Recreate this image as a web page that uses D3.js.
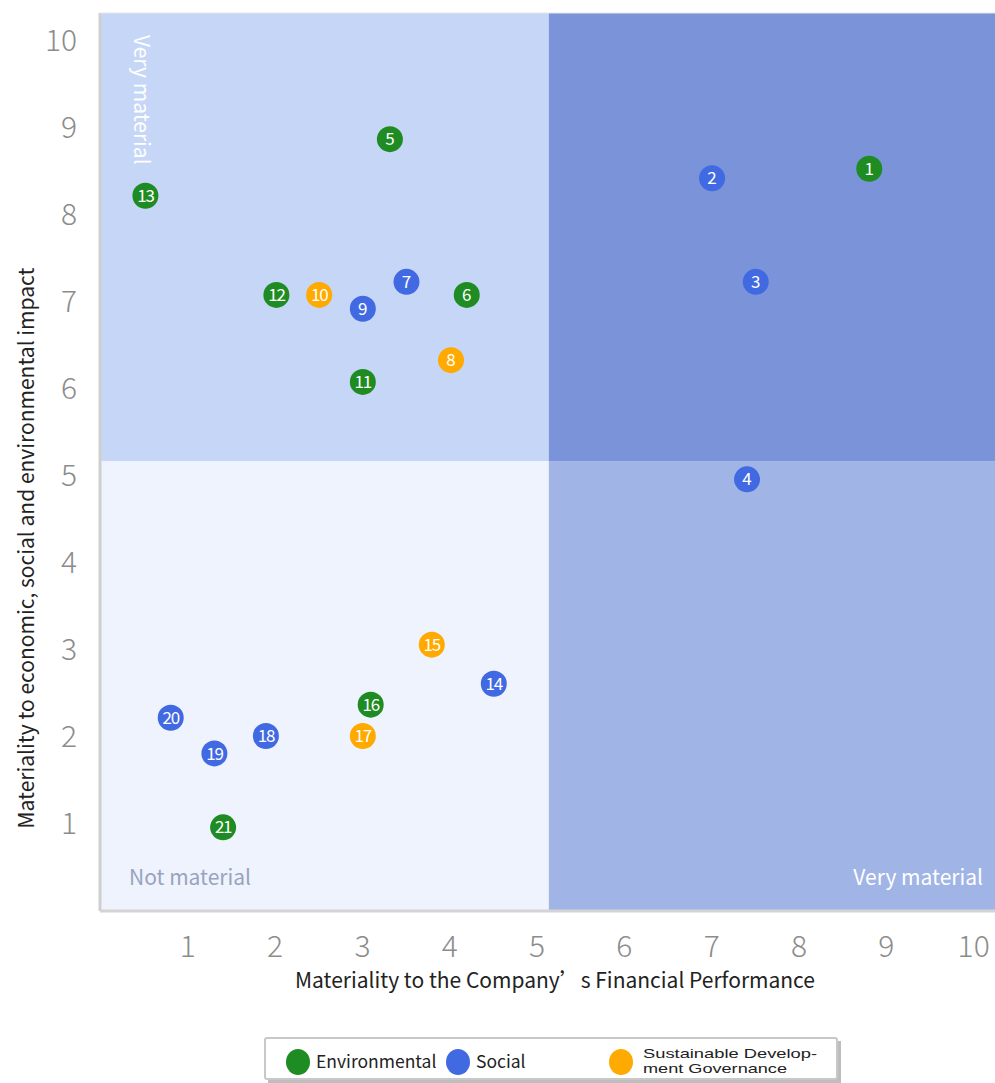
<!DOCTYPE html>
<html><head><meta charset="utf-8">
<script src="https://cdn.jsdelivr.net/npm/d3@7"></script>
<style>body{margin:0;background:#fff;} svg{display:block;}</style>
</head><body>
<script>
// ---- data ----
const ids        = [1,2,3,4,5,6,7,8,9,10,11,12,13,14,15,16,17,18,19,20,21];
const financial  = [8.81,7.01,7.51,7.41,3.32,4.20,3.51,4.02,3.01,2.51,3.01,2.02,0.52,4.51,3.80,3.10,3.01,1.90,1.31,0.81,1.41];
const impact     = [8.52,8.41,7.22,4.95,8.86,7.07,7.22,6.32,6.91,7.07,6.07,7.07,8.21,2.60,3.05,2.36,2.00,2.00,1.80,2.21,0.95];
const categories = ["E","S","S","S","E","E","S","G","S","G","E","E","E","S","G","E","G","S","S","S","E"];
const seriesKeys   = ["E","S","G"];
const seriesLabels = ["Environmental","Social","Sustainable Develop-|ment Governance"];
const tickValues = [1,2,3,4,5,6,7,8,9,10];
const xTitle = "Materiality to the Company’s Financial Performance";
const yTitle = "Materiality to economic, social and environmental impact";
const quadrantSplit = {x:5.14, y:5.16};

const colors = {E:"#1e8c22", S:"#4169e1", G:"#ffaa00"};
const W = 995, H = 1083;
const svg = d3.select("body").append("svg").attr("width",W).attr("height",H);

const x = d3.scaleLinear().domain([0,10.25]).range([100,995]);
const y = d3.scaleLinear().domain([0,10.31]).range([910,13]);

// quadrants
const quads = [
  {x0:0, x1:quadrantSplit.x, y0:quadrantSplit.y, y1:10.31, fill:"#c6d6f6"},
  {x0:quadrantSplit.x, x1:10.25, y0:quadrantSplit.y, y1:10.31, fill:"#7b93d8"},
  {x0:0, x1:quadrantSplit.x, y0:0, y1:quadrantSplit.y, fill:"#eff3fd"},
  {x0:quadrantSplit.x, x1:10.25, y0:0, y1:quadrantSplit.y, fill:"#a0b4e6"}
];
svg.append("g").selectAll("rect").data(quads).join("rect")
  .attr("x",d=>x(d.x0)).attr("y",d=>y(d.y1))
  .attr("width",d=>x(d.x1)-x(d.x0)).attr("height",d=>y(d.y0)-y(d.y1))
  .attr("fill",d=>d.fill);

// borders
svg.append("line").attr("x1",x(0)).attr("x2",x(0)).attr("y1",y(10.31)).attr("y2",y(0)+1)
  .attr("stroke","#cfcfcf").attr("stroke-width",3);
svg.append("line").attr("x1",x(0)).attr("x2",x(10.25)).attr("y1",y(0)+1).attr("y2",y(0)+1)
  .attr("stroke","#d4d4d4").attr("stroke-width",3);
svg.append("line").attr("x1",x(0)).attr("x2",x(10.25)).attr("y1",y(10.31)).attr("y2",y(10.31))
  .attr("stroke","#e6e6e6").attr("stroke-width",1);

// axes
const font = "'Noto Sans CJK SC', 'Noto Sans', sans-serif";
const xAxis = d3.axisBottom(x).tickValues(tickValues).tickSize(0).tickPadding(0);
const gx = svg.append("g").attr("transform",`translate(0,${y(0)})`).call(xAxis);
gx.select(".domain").remove();
gx.selectAll("text").attr("dy",null).attr("y",47).attr("font-size",30).attr("font-weight",300)
  .attr("fill","#8c8c8c").attr("font-family",font);
const yAxis = d3.axisLeft(y).tickValues(tickValues).tickSize(0).tickPadding(0);
const gy = svg.append("g").attr("transform",`translate(77,0)`).call(yAxis);
gy.select(".domain").remove();
gy.selectAll("text").attr("dy","0.36em").attr("font-size",30).attr("font-weight",300)
  .attr("fill","#8c8c8c").attr("font-family",font);

// titles
svg.append("text").attr("x",555).attr("y",988).attr("text-anchor","middle")
  .attr("font-family",font).attr("font-size",21).attr("fill","#222").text(xTitle);
svg.append("text").attr("transform","translate(34,548) rotate(-90)").attr("text-anchor","middle")
  .attr("font-family",font).attr("font-size",21).attr("fill","#222").text(yTitle);

// corner labels
svg.append("text").attr("transform","translate(134,35) rotate(90)")
  .attr("font-family",font).attr("font-size",21).attr("fill","#ffffff").text("Very material");
svg.append("text").attr("x",129).attr("y",885)
  .attr("font-family",font).attr("font-size",21).attr("fill","#98a3c0").text("Not material");
svg.append("text").attr("x",983).attr("y",885).attr("text-anchor","end")
  .attr("font-family",font).attr("font-size",21).attr("fill","#ffffff").text("Very material");

// points
const pts = ids.map((id,i)=>({id, fx:financial[i], iy:impact[i], c:categories[i]}));
const g = svg.append("g").selectAll("g").data(pts).join("g")
  .attr("transform",d=>`translate(${x(d.fx)},${y(d.iy)})`);
g.append("circle").attr("r",13).attr("fill",d=>colors[d.c]);
g.append("text").attr("text-anchor","middle").attr("dy","0.36em")
  .attr("font-family",font).attr("font-size",17).attr("fill","#fff")
  .attr("letter-spacing",d=>d.id>=10?-1.2:0).text(d=>d.id);

// legend
const lg = svg.append("g");
lg.append("rect").attr("x",268).attr("y",1041).attr("width",573).attr("height",42).attr("fill","#bdbdbd");
lg.append("rect").attr("x",265).attr("y",1038).attr("width",572).attr("height",41)
  .attr("fill","#fff").attr("stroke","#c8c8c8").attr("stroke-width",2).attr("rx",2);
const legX = [298, 458, 621];
const multiWidths = [174, 144];
seriesKeys.forEach((k,i)=>{
  lg.append("ellipse").attr("cx",legX[i]).attr("cy",1062).attr("rx",12).attr("ry",13).attr("fill",colors[k]);
  const lines = seriesLabels[i].split("|");
  if(lines.length===1){
    lg.append("text").attr("x",legX[i]+18).attr("y",1068).attr("font-family",font)
      .attr("font-size",17.5).attr("fill","#222").text(lines[0]);
  } else {
    lines.forEach((l,j)=>lg.append("text").attr("x",legX[i]+22).attr("y",1058+j*15)
      .attr("font-family","'Liberation Sans', Arial, sans-serif").attr("font-size",13).attr("fill","#222")
      .attr("textLength",multiWidths[j]).attr("lengthAdjust","spacingAndGlyphs").text(l));
  }
});
</script>
</body></html>
